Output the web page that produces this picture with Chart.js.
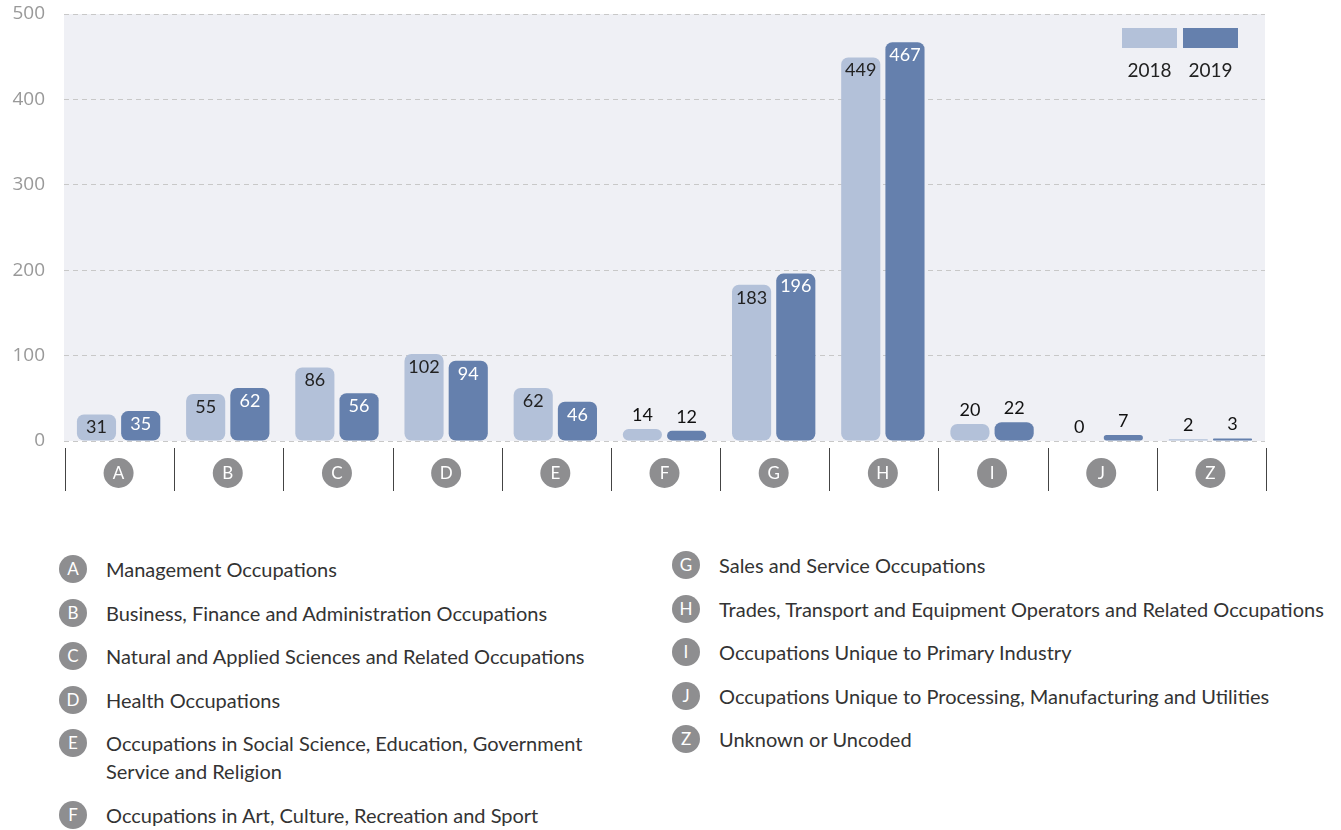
<!DOCTYPE html>
<html>
<head>
<meta charset="utf-8">
<script src="https://cdn.jsdelivr.net/npm/chart.js@4.4.0/dist/chart.umd.min.js"></script>
<style>
  body { margin: 0; background: #fff; font-family: Lato, "Open Sans", sans-serif; }
  #wrap { position: relative; width: 1341px; height: 500px; }
  .col { position: absolute; }
  .item { display: flex; align-items: flex-start; margin-bottom: 15.5px; font-size: 20px; line-height: 28px; color: #333; }
  .dot { flex: none; width: 28px; height: 28px; border-radius: 50%; background: #8e8e90; color: #fff;
         font-size: 17px; line-height: 28px; text-align: center; margin-top: 0; margin-right: 19px; }
</style>
</head>
<body>
<div id="wrap"><canvas id="chart"></canvas></div>
<div class="col" id="legLeft" style="left:59px; top:555px; width:560px;"></div>
<div class="col" id="legRight" style="left:672px; top:551px; width:669px;"></div>
<script>
// ---- data ----
const letters = ['A', 'B', 'C', 'D', 'E', 'F', 'G', 'H', 'I', 'J', 'Z'];
const occupations = [
  'Management Occupations',
  'Business, Finance and Administration Occupations',
  'Natural and Applied Sciences and Related Occupations',
  'Health Occupations',
  'Occupations in Social Science, Education, Government Service and Religion',
  'Occupations in Art, Culture, Recreation and Sport',
  'Sales and Service Occupations',
  'Trades, Transport and Equipment Operators and Related Occupations',
  'Occupations Unique to Primary Industry',
  'Occupations Unique to Processing, Manufacturing and Utilities',
  'Unknown or Uncoded'
];
const values2018 = [31, 55, 86, 102, 62, 14, 183, 449, 20, 0, 2];
const values2019 = [35, 62, 56, 94, 46, 12, 196, 467, 22, 7, 3];
const yTicks = [0, 100, 200, 300, 400, 500];

const color2018 = '#b3c1d9';
const color2019 = '#6580ad';

//============= html legend for the letters ===========
letters.forEach((l, i) => {
  const div = document.createElement('div');
  div.className = 'item';
  div.innerHTML = `<span class="dot">${l}</span><span>${occupations[i]}</span>`;
  if (i === 4) div.lastChild.style.maxWidth = '495px';
  document.getElementById(i < 6 ? 'legLeft' : 'legRight').appendChild(div);
});

//============= plugins ===========
const backdrop = {
  id: 'backdrop',
  beforeDraw(chart) {
    const { ctx, chartArea: a, scales: { x } } = chart;
    ctx.save();
    ctx.fillStyle = '#eff0f5';
    ctx.fillRect(a.left, a.top, a.right - a.left, a.bottom - a.top);
    // circles behind the letter ticks
    ctx.fillStyle = '#8e8e90';
    letters.forEach((l, i) => {
      ctx.beginPath();
      ctx.arc(x.getPixelForValue(i), a.bottom + 32, 15, 0, Math.PI * 2);
      ctx.fill();
    });
    // separators between categories
    const w = (a.right - a.left) / letters.length;
    ctx.strokeStyle = '#444';
    ctx.lineWidth = 1;
    for (let i = 0; i <= letters.length; i++) {
      const px = Math.round(a.left + i * w) + 1.5;
      ctx.beginPath();
      ctx.moveTo(px, a.bottom + 7);
      ctx.lineTo(px, a.bottom + 50);
      ctx.stroke();
    }
    ctx.restore();
  }
};

const valueLabels = {
  id: 'valueLabels',
  afterDatasetsDraw(chart) {
    const ctx = chart.ctx;
    ctx.save();
    ctx.font = '18px Lato';
    ctx.textAlign = 'center';
    ctx.textBaseline = 'middle';
    chart.data.datasets.forEach((ds, di) => {
      chart.getDatasetMeta(di).data.forEach((bar, i) => {
        const h = bar.base - bar.y;
        if (h > 24) {
          ctx.fillStyle = di === 0 ? '#222' : '#fff';
          ctx.fillText(ds.data[i], bar.x, bar.y + 13);
        } else {
          ctx.fillStyle = '#111';
          ctx.fillText(ds.data[i], bar.x, bar.y - 14);
        }
      });
    });
    ctx.restore();
  }
};

const yearLegend = {
  id: 'yearLegend',
  afterDraw(chart) {
    const { ctx, chartArea: a } = chart;
    ctx.save();
    ctx.font = '19px Lato';
    ctx.textAlign = 'center';
    ctx.textBaseline = 'middle';
    chart.data.datasets.forEach((ds, i) => {
      const left = a.right - 143 + i * 61;
      ctx.fillStyle = ds.backgroundColor;
      ctx.fillRect(left, a.top + 14, 55, 20);
      ctx.fillStyle = '#222';
      ctx.fillText(ds.label, left + 27.5, a.top + 57);
    });
    ctx.restore();
  }
};

new Chart(document.getElementById('chart'), {
  type: 'bar',
  data: {
    labels: letters,
    datasets: [
      { label: '2018', data: values2018, backgroundColor: color2018 },
      { label: '2019', data: values2019, backgroundColor: color2019 }
    ]
  },
  options: {
    responsive: true,
    maintainAspectRatio: false,
    animation: false,
    layout: { padding: { top: 14, right: 76, left: 0, bottom: 0 } },
    datasets: {
      bar: {
        categoryPercentage: 0.81,
        barPercentage: 0.885,
        borderRadius: 7,
        borderSkipped: false
      }
    },
    plugins: { legend: { display: false }, tooltip: { enabled: false } },
    scales: {
      x: {
        grid: { display: false, drawTicks: false },
        border: { display: false },
        ticks: { color: '#fff', font: { family: 'Lato', size: 17 }, padding: 22 },
        afterFit(scale) { scale.height = 59; }
      },
      y: {
        min: yTicks[0],
        max: yTicks[yTicks.length - 1],
        afterBuildTicks(scale) { scale.ticks = yTicks.map(v => ({ value: v })); },
        grid: { color: '#c8c8c8', drawTicks: false, lineWidth: 1 },
        border: { display: false, dash: [5, 4] },
        ticks: { color: '#999', font: { family: 'Open Sans', size: 19 }, padding: 19 },
        afterFit(scale) { scale.width = 64; scale.paddingTop = 0; scale.paddingBottom = 0; }
      }
    }
  },
  plugins: [backdrop, valueLabels, yearLegend]
});
</script>
</body>
</html>
